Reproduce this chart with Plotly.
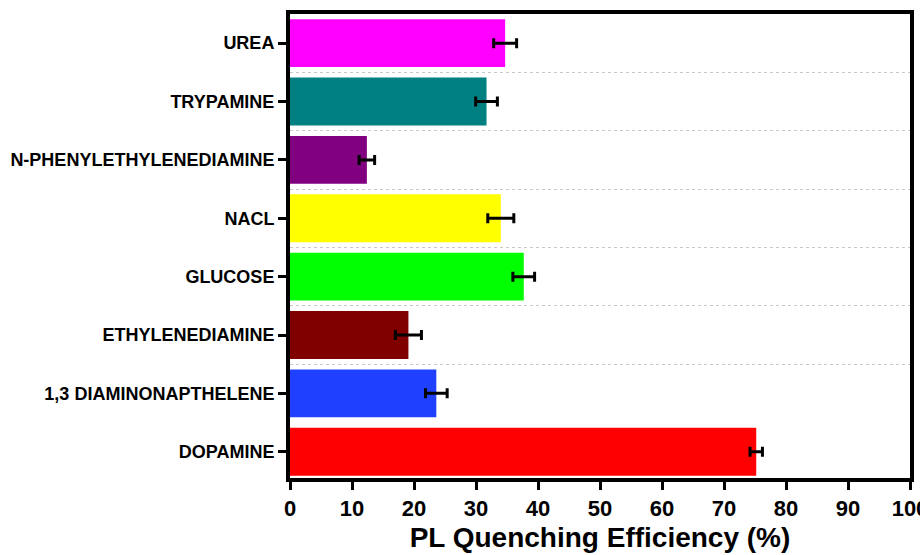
import plotly.graph_objects as go

# Categories listed bottom to top
categories = ["DOPAMINE", "1,3 DIAMINONAPTHELENE", "ETHYLENEDIAMINE", "GLUCOSE",
              "NACL", "N-PHENYLETHYLENEDIAMINE", "TRYPAMINE", "UREA"]
values = [75.2, 23.6, 19.1, 37.7, 34.0, 12.4, 31.7, 34.7]
errors = [1.0, 1.75, 2.1, 1.75, 2.1, 1.25, 1.75, 1.85]
colors = ["#ff0000", "#2040ff", "#800000", "#00ff00",
          "#ffff00", "#800080", "#008080", "#ff00ff"]
x_ticks = [0, 10, 20, 30, 40, 50, 60, 70, 80, 90, 100]

positions = list(range(len(categories)))
# dotted separators between categories (none between the two lowest)
separators = [p + 0.5 for p in positions[1:-1]]

font_family = "Liberation Sans, Arial, sans-serif"

fig = go.Figure(go.Bar(
    x=values, y=positions, orientation="h",
    marker=dict(color=colors, line=dict(width=0)),
    width=0.82,
    error_x=dict(type="data", array=errors, visible=True,
                 color="black", thickness=3, width=5),
))

fig.update_layout(
    width=920, height=555,
    margin=dict(l=290, r=10, t=14, b=77),
    paper_bgcolor="white", plot_bgcolor="white",
    showlegend=False,
    font=dict(family=font_family, color="black"),
    xaxis=dict(
        range=[0, 100], tickvals=x_ticks,
        automargin=False,
        showline=True, linecolor="black", linewidth=4, mirror=True,
        ticks="outside", ticklen=8, tickwidth=3, tickcolor="black",
        showgrid=False, zeroline=False,
        ticklabeloverflow="allow",
        tickfont=dict(size=22, weight="bold", family=font_family),
        title=dict(text="PL Quenching Efficiency (%)",
                   font=dict(size=28, weight="bold", family=font_family),
                   standoff=8),
    ),
    yaxis=dict(
        range=[-0.45, 7.5], tickvals=positions, ticktext=categories,
        automargin=False,
        showline=True, linecolor="black", linewidth=4, mirror=True,
        ticks="outside", ticklen=8, tickwidth=3, tickcolor="black",
        showgrid=False, zeroline=False,
        tickfont=dict(size=18, weight="bold", family=font_family),
        minor=dict(tickvals=separators, showgrid=True, gridcolor="#c8c8c8",
                   gridwidth=1, griddash="dot", ticks=""),
    ),
)

fig.write_html("out.html")
